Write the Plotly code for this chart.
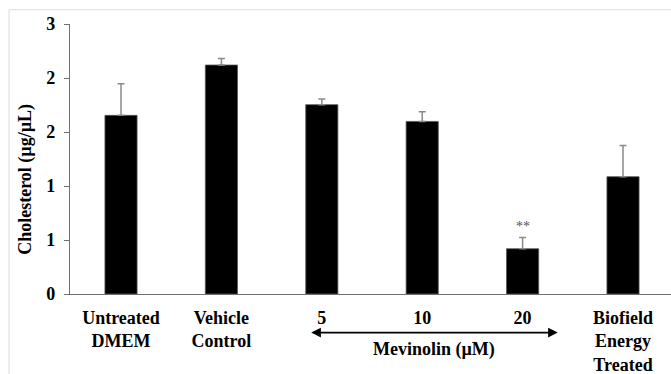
import plotly.graph_objects as go

categories = ["Untreated<br>DMEM", "Vehicle<br>Control", "5", "10", "20", "Biofield<br>Energy<br>Treated"]
values = [1.654, 2.12, 1.753, 1.598, 0.419, 1.086]
errors = [0.293, 0.06, 0.053, 0.09, 0.105, 0.29]
ytick_vals = [0, 0.5, 1.0, 1.5, 2.0, 2.5]
ytick_text = ["0", "1", "1", "2", "2", "3"]

FONT = "Liberation Serif"
idx = list(range(len(categories)))

fig = go.Figure()
fig.add_trace(go.Bar(
    x=idx, y=values, width=0.32,
    marker=dict(color="black", line=dict(color="#555555", width=0.8)),
    error_y=dict(type="data", symmetric=False, array=errors,
                 arrayminus=[0] * len(errors),
                 color="#8a8a8a", thickness=1.5, width=3.5),
    showlegend=False,
))

fig.update_layout(
    width=671, height=374,
    margin=dict(l=70, r=0, t=24, b=80),
    paper_bgcolor="white", plot_bgcolor="white",
    font=dict(family=FONT, color="black"),
    bargap=0.68,
)
fig.update_xaxes(
    range=[-0.508, 5.478], tickvals=idx, ticktext=categories,
    showline=True, linecolor="#707070", linewidth=1.3,
    ticks="", showgrid=False, zeroline=False, automargin=False,
    tickfont=dict(family=FONT, size=18, color="black", weight="bold"),
    ticklabelstandoff=7,
)
fig.update_yaxes(
    range=[0, 2.5], tickvals=ytick_vals, ticktext=ytick_text,
    showline=True, linecolor="#707070", linewidth=1.3,
    ticks="outside", ticklen=5, tickcolor="#707070", tickwidth=1.3,
    showgrid=False, zeroline=False, automargin=False,
    tickfont=dict(family=FONT, size=18, color="black", weight="bold"),
    ticklabelstandoff=5,
)

# y-axis title
fig.add_annotation(
    text="<b>Cholesterol (µg/µL)</b>", xref="paper", yref="paper",
    x=-0.0732, y=0.423, xanchor="center", yanchor="middle",
    textangle=-90, showarrow=False,
    font=dict(family=FONT, size=18, color="black"),
)

# significance marker
fig.add_annotation(
    text="**", x=4, y=values[4] + errors[4], xref="x", yref="y",
    yanchor="bottom", yshift=1, showarrow=False,
    font=dict(family=FONT, size=14, color="#555555"),
)

# Mevinolin double arrow
fig.add_annotation(
    x=4 + 0.35, y=-0.143, ax=2 - 0.12, ay=0,
    xref="x", yref="paper", axref="x", ayref="pixel",
    text="", showarrow=True, arrowhead=2, arrowside="end+start",
    arrowwidth=1.6, arrowsize=1.2, arrowcolor="black",
)
fig.add_annotation(
    text="<b>Mevinolin (µM)</b>", x=3.12, y=-0.207, xref="x", yref="paper",
    xanchor="center", yanchor="middle", showarrow=False,
    font=dict(family=FONT, size=18, color="black"),
)

# light chart-area border (top and left)
fig.add_shape(type="line", xref="paper", yref="paper",
              x0=-0.1015, x1=1.0, y0=1.053, y1=1.053,
              line=dict(color="#dcdcdc", width=1))
fig.add_shape(type="line", xref="paper", yref="paper",
              x0=-0.1015, x1=-0.1015, y0=1.053, y1=-0.3,
              line=dict(color="#dcdcdc", width=1))

fig.write_html("out.html", config={"displayModeBar": False},
               post_script="document.body.style.margin='0';document.body.style.overflow='hidden';")
